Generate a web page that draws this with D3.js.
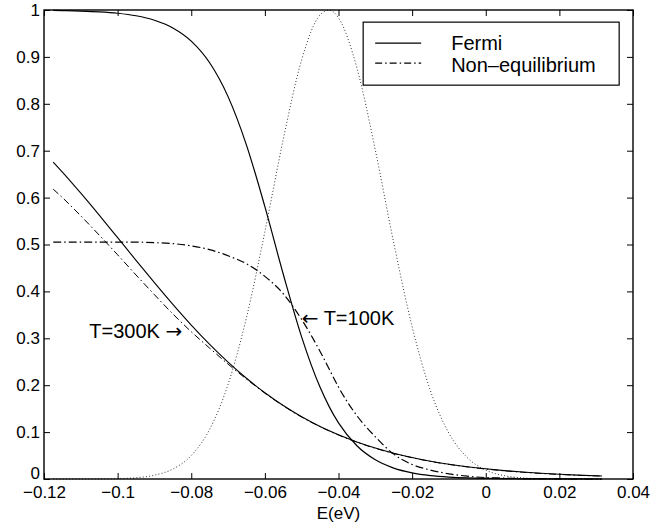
<!DOCTYPE html>
<html lang="en">

<head>
    <meta charset="utf-8" />
    <title>Fermi vs non-equilibrium distribution</title>
    <script src="https://cdn.jsdelivr.net/npm/d3@7"></script>
    <style>
        body { margin: 0; background: #fff; }
        text { font-family: "Liberation Sans", Arial, Helvetica, sans-serif; fill: #000; }
        .tick line { stroke: #000; stroke-width: 1; }
        .domain { display: none; }
        .arrow { font-family: "DejaVu Sans", sans-serif; }
    </style>
</head>

<body>
</body>

<script>

    // energy grid (eV) the curves were read on
    let energy = [-0.1175, -0.115, -0.11, -0.105, -0.10, -0.095, -0.09, -0.085, -0.08, -0.075,
        -0.07, -0.065, -0.06, -0.055, -0.05, -0.045, -0.0425, -0.04, -0.035, -0.03,
        -0.025, -0.02, -0.015, -0.01, -0.005, 0, 0.005, 0.01, 0.015, 0.02, 0.025, 0.0316];

    // Fermi, T=100K
    let fermi100 = [0.9991, 0.9988, 0.9978, 0.9961, 0.9931, 0.9877, 0.9782, 0.9618, 0.9337, 0.8875,
        0.8153, 0.7120, 0.5806, 0.4366, 0.3026, 0.1954, 0.1538, 0.1197, 0.0708, 0.0409,
        0.0233, 0.0132, 0.0074, 0.0042, 0.0023, 0.0013, 0.0007, 0.0004, 0.0002, 0.0001, 0.0001, 0.0];

    // Fermi, T=300K
    let fermi300 = [0.6759, 0.6544, 0.6094, 0.5626, 0.5145, 0.4662, 0.4186, 0.3723, 0.3283, 0.2872,
        0.2493, 0.2149, 0.1840, 0.1567, 0.1328, 0.1121, 0.1028, 0.0942, 0.0790, 0.0660,
        0.0550, 0.0458, 0.0380, 0.0316, 0.0262, 0.0217, 0.0179, 0.0148, 0.0122, 0.0101, 0.0083, 0.0065];

    // non-equilibrium, T=100K
    let noneq100 = [0.505, 0.505, 0.505, 0.505, 0.505, 0.505, 0.504, 0.502, 0.497, 0.489,
        0.476, 0.459, 0.432, 0.395, 0.340, 0.272, 0.234, 0.196, 0.135, 0.090,
        0.053, 0.031, 0.019, 0.011, 0.006, 0.003, 0.002, 0.001, 0.001, 0.0, 0.0, 0.0];

    // non-equilibrium, T=300K
    let noneq300 = [0.618, 0.600, 0.561, 0.520, 0.478, 0.435, 0.393, 0.352, 0.314, 0.279,
        0.245, 0.213, 0.183, 0.156, 0.132, 0.1115, 0.1023, 0.0937, 0.0786, 0.0655,
        0.0545, 0.0453, 0.0375, 0.0311, 0.0257, 0.0212, 0.0175, 0.0144, 0.0118, 0.0097, 0.0079, 0.0062];

    // dotted peak
    let peak = [0.0, 0.0, 0.0001, 0.0002, 0.0008, 0.0027, 0.0081, 0.0212, 0.0500, 0.106,
        0.2017, 0.3442, 0.5272, 0.7246, 0.8939, 0.9896, 0.9998, 0.9832, 0.8766, 0.7014,
        0.5037, 0.3247, 0.1877, 0.0975, 0.0454, 0.0190, 0.0071, 0.0024, 0.0007, 0.0002, 0.0001, 0.0];

    let xTicks = [-0.12, -0.1, -0.08, -0.06, -0.04, -0.02, 0, 0.02, 0.04];
    let xTickLabels = ['\u22120.12', '\u22120.1', '\u22120.08', '\u22120.06', '\u22120.04', '\u22120.02', '0', '0.02', '0.04'];
    let yTicks = [0, 0.1, 0.2, 0.3, 0.4, 0.5, 0.6, 0.7, 0.8, 0.9, 1];
    let yTickLabels = ['0', '0.1', '0.2', '0.3', '0.4', '0.5', '0.6', '0.7', '0.8', '0.9', '1'];

    let legendLabels = ['Fermi', 'Non\u2013equilibrium'];

    let margin = { top: 10, bottom: 48, left: 44, right: 36 };
    let width = 669 - margin.left - margin.right,
        height = 527 - margin.top - margin.bottom;

    let x = d3.scaleLinear().domain([-0.12, 0.04]).range([0, width]);
    let y = d3.scaleLinear().domain([0, 1]).range([height, 0]);

    let svg = d3.select('body')
        .append('svg')
        .attr('width', 669)
        .attr('height', 527)
        .append('g')
        .attr('transform', `translate(${margin.left},${margin.top})`);

    // curves
    let line = vals => d3.line()
        .x((d, i) => x(energy[i]))
        .y(d => y(d))
        .curve(d3.curveMonotoneX)(vals);

    let curves = [
        { vals: peak, dash: '1,2.2', width: 1, color: '#333' },
        { vals: fermi300, dash: null, width: 1.1, color: '#000' },
        { vals: noneq300, dash: '7,3,1.5,3', width: 1, color: '#000' },
        { vals: noneq100, dash: '8,3,1.5,3', width: 1.2, color: '#000' },
        { vals: fermi100, dash: null, width: 1.2, color: '#000' }
    ];

    svg.selectAll('.curve')
        .data(curves)
        .enter().append('path')
        .attr('class', 'curve')
        .attr('d', d => line(d.vals))
        .attr('fill', 'none')
        .attr('stroke', d => d.color)
        .attr('stroke-width', d => d.width)
        .attr('stroke-dasharray', d => d.dash);

    // axes with inward ticks on all four sides
    svg.append('g')
        .attr('transform', `translate(0,${height})`)
        .call(d3.axisBottom(x).tickValues(xTicks).tickSize(-6).tickPadding(7)
            .tickFormat((d, i) => xTickLabels[i]))
        .selectAll('text').style('font-size', '17px');

    svg.append('g')
        .call(d3.axisTop(x).tickValues(xTicks).tickSize(-6).tickFormat(''));

    svg.append('g')
        .call(d3.axisLeft(y).tickValues(yTicks).tickSize(-6).tickPadding(4)
            .tickFormat((d, i) => yTickLabels[i]))
        .selectAll('text').style('font-size', '17px')
        .attr('dy', (d, i) => i === 0 ? '-0.05em' : '0.32em');

    svg.append('g')
        .attr('transform', `translate(${width},0)`)
        .call(d3.axisRight(y).tickValues(yTicks).tickSize(-6).tickFormat(''));

    svg.append('rect')
        .attr('width', width)
        .attr('height', height)
        .attr('fill', 'none')
        .attr('stroke', '#000')
        .attr('stroke-width', 1.4);

    svg.append('text')
        .attr('x', width / 2)
        .attr('y', height + 40)
        .attr('text-anchor', 'middle')
        .style('font-size', '17px')
        .text('E(eV)');

    // annotations
    let a300 = svg.append('text')
        .attr('x', x(-0.1077))
        .attr('y', y(0.301))
        .style('font-size', '20px');
    a300.append('tspan').text('T=300K ');
    a300.append('tspan').attr('class', 'arrow').text('\u2192');

    let a100 = svg.append('text')
        .attr('x', x(-0.0500))
        .attr('y', y(0.328))
        .style('font-size', '20px');
    a100.append('tspan').attr('class', 'arrow').text('\u2190');
    a100.append('tspan').text(' T=100K');

    // legend
    let legend = svg.append('g')
        .attr('transform', `translate(${x(-0.0333)},${y(0.9741)})`);

    legend.append('rect')
        .attr('width', 256)
        .attr('height', 63)
        .attr('fill', '#fff')
        .attr('stroke', '#000')
        .attr('stroke-width', 1.2);

    let entry = legend.selectAll('.entry')
        .data(legendLabels)
        .enter().append('g')
        .attr('class', 'entry');

    entry.append('line')
        .attr('x1', 12)
        .attr('x2', 58)
        .attr('y1', (d, i) => 21 + i * 20)
        .attr('y2', (d, i) => 21 + i * 20)
        .attr('stroke', '#000')
        .attr('stroke-width', 1.1)
        .attr('stroke-dasharray', (d, i) => i ? '7,3,1.5,3' : null);

    entry.append('text')
        .attr('x', 88)
        .attr('y', (d, i) => 28 + i * 22)
        .style('font-size', '20px')
        .text(d => d);

</script>

</html>
